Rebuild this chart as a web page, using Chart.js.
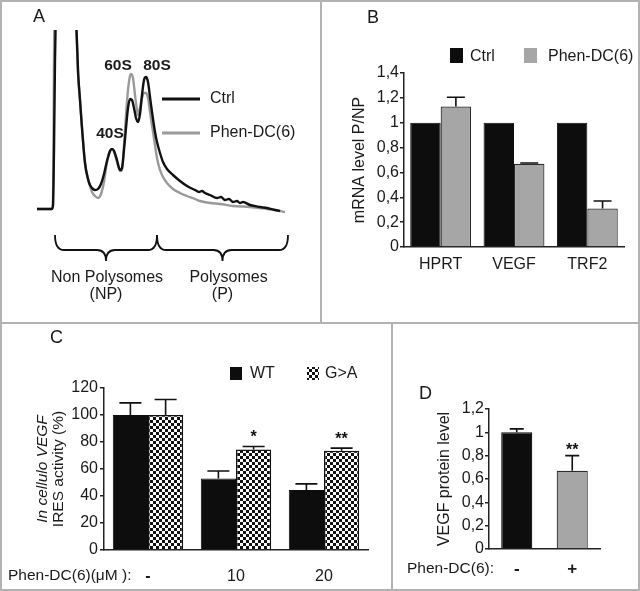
<!DOCTYPE html>
<html>
<head>
<meta charset="utf-8">
<script src="https://cdn.jsdelivr.net/npm/chart.js@4"></script>
<style>
  body { margin: 0; background: #fff; }
  #fig { position: relative; width: 640px; height: 591px; overflow: hidden; background: #fff; }
  #fig canvas { position: absolute; left: 0; top: 0; }
  .ln { position: absolute; background: #b2b2b2; }
</style>
</head>
<body>
<div id="fig">
  <canvas id="chartA" width="640" height="591"></canvas>
  <canvas id="chartB" width="640" height="591"></canvas>
  <canvas id="chartC" width="640" height="591"></canvas>
  <canvas id="chartD" width="640" height="591"></canvas>
  <div class="ln" style="left:0;top:0;width:640px;height:2px"></div>
  <div class="ln" style="left:0;top:589px;width:640px;height:2px"></div>
  <div class="ln" style="left:0;top:0;width:2px;height:591px"></div>
  <div class="ln" style="left:638px;top:0;width:2px;height:591px"></div>
  <div class="ln" style="left:0;top:322px;width:640px;height:2px"></div>
  <div class="ln" style="left:320px;top:0;width:2px;height:323px"></div>
  <div class="ln" style="left:391px;top:323px;width:2px;height:268px"></div>
</div>
<script>
var FONT = '"Liberation Sans", Arial, Helvetica, sans-serif';
Chart.defaults.font.family = FONT;
Chart.defaults.color = '#222';

// A: polysome profile, absorbance vs position in gradient (%)
var ctrlX = [0, 6, 6.4, 6.8, 7.2, 8, 10, 13, 15.8, 16.5, 17.2, 17.9, 19.2, 20.4, 21.2, 22.4, 23.2, 24.4, 25.6, 26.8, 28, 29.2, 30, 30.8, 32, 33.2, 34, 34.8, 35.6, 36.4, 37.2, 38, 38.8, 39.6, 40.4, 41.2, 42, 42.8, 43.6, 44.4, 45.2, 46, 47.2, 48, 49.2, 50.4, 52, 54.4, 57.2, 60, 63.2, 64.8, 66, 67.2, 69.2, 72, 73.6, 75.2, 76.8, 78.4, 80, 81.2, 82.4, 85.2, 89.2, 92, 95.2, 97.2];
var ctrlY = [0, 0, 0.04, 0.59, 1.49, 2.6, 3.2, 2.6, 1.79, 1.34, 1.09, 0.84, 0.46, 0.30, 0.24, 0.20, 0.19, 0.20, 0.25, 0.35, 0.48, 0.58, 0.60, 0.58, 0.49, 0.39, 0.41, 0.59, 0.81, 1.01, 1.10, 1.09, 1.01, 0.91, 0.87, 0.95, 1.14, 1.29, 1.32, 1.27, 1.12, 0.97, 0.77, 0.67, 0.56, 0.47, 0.40, 0.34, 0.28, 0.23, 0.19, 0.17, 0.18, 0.16, 0.14, 0.11, 0.12, 0.09, 0.10, 0.07, 0.08, 0.06, 0.07, 0.04, 0.02, 0.01, -0.01, -0.02];
var phenX = [0, 6, 6.4, 6.6, 6.8, 7.4, 10, 13, 15.7, 16.4, 17.2, 18, 19.2, 20.4, 21.2, 22, 23.2, 24.4, 25.6, 26.8, 28, 29.2, 30, 30.8, 32, 33.2, 34, 34.8, 35.6, 36.4, 37.2, 37.6, 38.4, 39.2, 40, 40.4, 41.2, 42, 42.8, 43.6, 44.4, 45.2, 46, 47.2, 48, 49.2, 50.4, 52, 54.4, 57.2, 60, 63.2, 65.2, 69.2, 73.2, 78.4, 85.2, 92, 95.2, 99.2];
var phenY = [0, 0, 0.04, 0.59, 1.49, 2.6, 3.2, 2.6, 1.79, 1.36, 1.09, 0.82, 0.46, 0.30, 0.23, 0.17, 0.13, 0.11, 0.15, 0.27, 0.47, 0.58, 0.60, 0.58, 0.47, 0.38, 0.39, 0.64, 0.94, 1.19, 1.33, 1.35, 1.31, 1.14, 0.99, 0.94, 1.01, 1.11, 1.16, 1.16, 1.11, 0.97, 0.84, 0.64, 0.51, 0.39, 0.32, 0.26, 0.20, 0.16, 0.13, 0.10, 0.08, 0.06, 0.05, 0.03, 0.02, 0.00, -0.01, -0.03];
var peakNames = ['40S', '60S', '80S'];
var peakX = [29.2, 32.4, 48];
var peakY = [0.75, 1.43, 1.43];
var nonPolyRange = [7.2, 48];
var polyRange = [48, 100.4];

// B: mRNA level P/NP
var genes = ['HPRT', 'VEGF', 'TRF2'];
var bCtrl = [1, 1, 1];
var bPhen = [1.13, 0.67, 0.31];
var bPhenErr = [0.075, 0.006, 0.06];

// C: IRES activity (%)
var doses = ['-', '10', '20'];
var cWT = [100, 53, 44.5];
var cWTErr = [9, 5.5, 4.5];
var cGA = [100, 74.5, 73.5];
var cGAErr = [11.5, 2.2, 2];
var cStars = ['', '*', '**'];

// D: VEGF protein level
var dLabels = ['-', '+'];
var dVal = [1.0, 0.67];
var dErr = [0.03, 0.13];
var dStars = ['', '**'];

var BLACK = '#0d0d0d', GREY = '#a6a6a6', EDGE = '#2a2a2a';

function font(size, weight, style) {
  return (style || '') + ' ' + (weight || '') + ' ' + size + 'px ' + FONT;
}
function text(ctx, s, x, y, f, align) {
  ctx.font = f;
  ctx.textAlign = align || 'left';
  ctx.textBaseline = 'middle';
  ctx.fillStyle = '#1a1a1a';
  ctx.fillText(s, x, y);
}
function commaTick(v) {
  if (v === 0) return '0';
  return String(Math.round(v * 10) / 10).replace('.', ',');
}

var ctxC = document.getElementById('chartC').getContext('2d');
var checker = (function () {
  var c = document.createElement('canvas');
  c.width = 6; c.height = 6;
  var g = c.getContext('2d');
  g.fillStyle = '#fff'; g.fillRect(0, 0, 6, 6);
  g.fillStyle = '#111'; g.fillRect(0, 0, 3, 3); g.fillRect(3, 3, 3, 3);
  return ctxC.createPattern(c, 'repeat');
})();

// upper error bars + significance stars for bar charts
var errorBars = {
  id: 'errorBars',
  afterDatasetsDraw: function (chart, args, opts) {
    var ctx = chart.ctx, y = chart.scales.y;
    chart.data.datasets.forEach(function (ds, i) {
      if (!ds.errors) return;
      chart.getDatasetMeta(i).data.forEach(function (bar, j) {
        var top = y.getPixelForValue(ds.data[j] + ds.errors[j]);
        ctx.save();
        ctx.strokeStyle = '#111';
        ctx.lineWidth = 1.6;
        ctx.beginPath();
        ctx.moveTo(bar.x, bar.y);
        ctx.lineTo(bar.x, top);
        ctx.moveTo(bar.x - opts.cap / 2, top);
        ctx.lineTo(bar.x + opts.cap / 2, top);
        ctx.stroke();
        if (ds.stars && ds.stars[j]) {
          ctx.font = font(16, 'bold');
          ctx.textAlign = 'center';
          ctx.textBaseline = 'alphabetic';
          ctx.fillStyle = '#111';
          ctx.fillText(ds.stars[j], bar.x, top - opts.starGap);
        }
        ctx.restore();
      });
    });
  }
};

function hideExtras(extra) {
  var p = { legend: { display: false }, tooltip: { enabled: false } };
  for (var k in extra) p[k] = extra[k];
  return p;
}

// ---------- A ----------
new Chart('chartA', {
  type: 'line',
  data: {
    datasets: [
      { label: 'Ctrl', data: ctrlX.map(function (x, i) { return { x: x, y: ctrlY[i] }; }), borderColor: '#111', borderWidth: 2.4 },
      { label: 'Phen-DC(6)', data: phenX.map(function (x, i) { return { x: x, y: phenY[i] }; }), borderColor: '#9a9a9a', borderWidth: 2.4 }
    ]
  },
  options: {
    responsive: false,
    animation: false,
    events: [],
    layout: { padding: { left: 30, top: 30, right: 350, bottom: 377 } },
    elements: { point: { radius: 0 }, line: { cubicInterpolationMode: 'monotone' } },
    plugins: hideExtras({}),
    scales: {
      x: { type: 'linear', min: -2.8, max: 101.2, display: false },
      y: { type: 'linear', min: -0.05, max: 1.79, display: false }
    }
  },
  plugins: [{
    id: 'annotA',
    afterDraw: function (chart) {
      var ctx = chart.ctx, x = chart.scales.x, y = chart.scales.y;
      text(ctx, 'A', 33, 17, font(18));
      peakNames.forEach(function (n, i) {
        text(ctx, n, x.getPixelForValue(peakX[i]), y.getPixelForValue(peakY[i]), font(15.5, 'bold'), 'center');
      });
      var ds = chart.data.datasets;
      [99, 133].forEach(function (ly, i) {
        ctx.save();
        ctx.strokeStyle = ds[i].borderColor;
        ctx.lineWidth = 3;
        ctx.beginPath(); ctx.moveTo(162, ly); ctx.lineTo(200, ly); ctx.stroke();
        ctx.restore();
        text(ctx, ds[i].label, 210, ly, font(16));
      });
      function brace(x1, x2) {
        var top = 235, yh = 250, tip = 261, r = 9, mid = (x1 + x2) / 2;
        ctx.save();
        ctx.strokeStyle = '#111';
        ctx.lineWidth = 1.8;
        ctx.beginPath();
        ctx.moveTo(x1, top);
        ctx.quadraticCurveTo(x1, yh, x1 + r, yh);
        ctx.lineTo(mid - r, yh);
        ctx.quadraticCurveTo(mid, yh, mid, tip);
        ctx.quadraticCurveTo(mid, yh, mid + r, yh);
        ctx.lineTo(x2 - r, yh);
        ctx.quadraticCurveTo(x2, yh, x2, top);
        ctx.stroke();
        ctx.restore();
        return mid;
      }
      var m1 = brace(x.getPixelForValue(nonPolyRange[0]), x.getPixelForValue(nonPolyRange[1]));
      var m2 = brace(x.getPixelForValue(polyRange[0]), x.getPixelForValue(polyRange[1]));
      text(ctx, 'Non Polysomes', m1 + 1, 278, font(16), 'center');
      text(ctx, '(NP)', m1, 295, font(16), 'center');
      text(ctx, 'Polysomes', m2 + 6, 278, font(16), 'center');
      text(ctx, '(P)', m2, 295, font(16), 'center');
    }
  }]
});

// ---------- B ----------
new Chart('chartB', {
  type: 'bar',
  data: {
    labels: genes,
    datasets: [
      { label: 'Ctrl', data: bCtrl, backgroundColor: BLACK, borderColor: BLACK, borderWidth: 1 },
      { label: 'Phen-DC(6)', data: bPhen, errors: bPhenErr, backgroundColor: GREY, borderColor: EDGE, borderWidth: 1.2 }
    ]
  },
  options: {
    responsive: false,
    animation: false,
    events: [],
    layout: { padding: { left: 350, top: 73, right: 16, bottom: 314 } },
    datasets: { bar: { categoryPercentage: 0.83, barPercentage: 1 } },
    plugins: hideExtras({ errorBars: { cap: 18, starGap: 6 } }),
    scales: {
      x: {
        grid: { display: false },
        border: { color: '#222', width: 1.5 },
        ticks: { font: { size: 16 }, padding: 0, color: '#1a1a1a' },
        afterFit: function (s) { s.height = 30; }
      },
      y: {
        min: 0, max: 1.4,
        ticks: { stepSize: 0.2, callback: commaTick, font: { size: 16 }, padding: 1, color: '#1a1a1a' },
        grid: { drawOnChartArea: false, tickLength: 4, color: '#222', lineWidth: 1.5 },
        border: { color: '#222', width: 1.5 },
        title: { display: true, text: 'mRNA level P/NP', font: { size: 16 }, padding: 0, color: '#1a1a1a' },
        afterFit: function (s) { s.width = 54; }
      }
    }
  },
  plugins: [errorBars, {
    id: 'annotB',
    afterDraw: function (chart) {
      var ctx = chart.ctx, ds = chart.data.datasets;
      text(ctx, 'B', 367, 18, font(18));
      [[450, 470], [524, 548]].forEach(function (p, i) {
        ctx.fillStyle = ds[i].backgroundColor;
        ctx.fillRect(p[0], 48, 13, 15);
        text(ctx, ds[i].label, p[1], 57, font(16));
      });
    }
  }]
});

// ---------- C ----------
new Chart('chartC', {
  type: 'bar',
  data: {
    labels: doses,
    datasets: [
      { label: 'WT', data: cWT, errors: cWTErr, backgroundColor: BLACK, borderColor: BLACK, borderWidth: 1 },
      { label: 'G>A', data: cGA, errors: cGAErr, stars: cStars, backgroundColor: checker, borderColor: '#111', borderWidth: 1.5 }
    ]
  },
  options: {
    responsive: false,
    animation: false,
    events: [],
    layout: { padding: { left: 49, top: 388, right: 272, bottom: 6 } },
    datasets: { bar: { categoryPercentage: 0.8, barPercentage: 1 } },
    plugins: hideExtras({ errorBars: { cap: 22, starGap: 4 } }),
    scales: {
      x: {
        grid: { display: false },
        border: { color: '#222', width: 1.5 },
        ticks: {
          font: function (c) { return { size: 16, weight: doses[c.index] === '-' ? 'bold' : 'normal' }; },
          padding: 9, color: '#1a1a1a'
        },
        afterFit: function (s) { s.height = 35; }
      },
      y: {
        min: 0, max: 120,
        ticks: { stepSize: 20, font: { size: 16 }, padding: 2, color: '#1a1a1a' },
        grid: { drawOnChartArea: false, tickLength: 4, color: '#222', lineWidth: 1.5 },
        border: { color: '#222', width: 1.5 },
        title: { display: true, text: 'IRES activity (%)', font: { size: 15.5 }, padding: 0, color: '#1a1a1a' },
        afterFit: function (s) { s.width = 55; }
      }
    }
  },
  plugins: [errorBars, {
    id: 'annotC',
    afterDraw: function (chart) {
      var ctx = chart.ctx, ds = chart.data.datasets, a = chart.chartArea;
      text(ctx, 'C', 50, 338, font(18));
      [[230, 250], [307, 325]].forEach(function (p, i) {
        ctx.fillStyle = ds[i].backgroundColor;
        ctx.fillRect(p[0], 367, 12, 13);
        text(ctx, ds[i].label, p[1], 374, font(16));
      });
      ctx.save();
      ctx.translate(43, (a.top + a.bottom) / 2);
      ctx.rotate(-Math.PI / 2);
      text(ctx, 'In cellulo VEGF', 0, 0, font(15.5, '', 'italic'), 'center');
      ctx.restore();
      text(ctx, 'Phen-DC(6)(\u03bcM ):', 8, 576, font(15.5));
    }
  }]
});

// ---------- D ----------
new Chart('chartD', {
  type: 'bar',
  data: {
    labels: dLabels,
    datasets: [
      { label: 'VEGF protein level', data: dVal, errors: dErr, stars: dStars, backgroundColor: [BLACK, GREY], borderColor: [BLACK, EDGE], borderWidth: 1.2 }
    ]
  },
  options: {
    responsive: false,
    animation: false,
    events: [],
    layout: { padding: { left: 435, top: 409, right: 40, bottom: 12 } },
    datasets: { bar: { categoryPercentage: 1, barPercentage: 0.56 } },
    plugins: hideExtras({ errorBars: { cap: 14, starGap: 1 } }),
    scales: {
      x: {
        grid: { display: false },
        border: { color: '#222', width: 1.5 },
        ticks: { font: { size: 17, weight: 'bold' }, padding: 2, color: '#1a1a1a' },
        afterFit: function (s) { s.height = 30; }
      },
      y: {
        min: 0, max: 1.2,
        ticks: { stepSize: 0.2, callback: commaTick, font: { size: 16 }, padding: 1, color: '#1a1a1a' },
        grid: { drawOnChartArea: false, tickLength: 4, color: '#222', lineWidth: 1.5 },
        border: { color: '#222', width: 1.5 },
        title: { display: true, text: 'VEGF protein level', font: { size: 16 }, padding: 0, color: '#1a1a1a' },
        afterFit: function (s) { s.width = 54; }
      }
    }
  },
  plugins: [errorBars, {
    id: 'annotD',
    afterDraw: function (chart) {
      var ctx = chart.ctx;
      text(ctx, 'D', 419, 394, font(18));
      text(ctx, 'Phen-DC(6):', 407, 569, font(15.5));
    }
  }]
});
</script>
</body>
</html>
